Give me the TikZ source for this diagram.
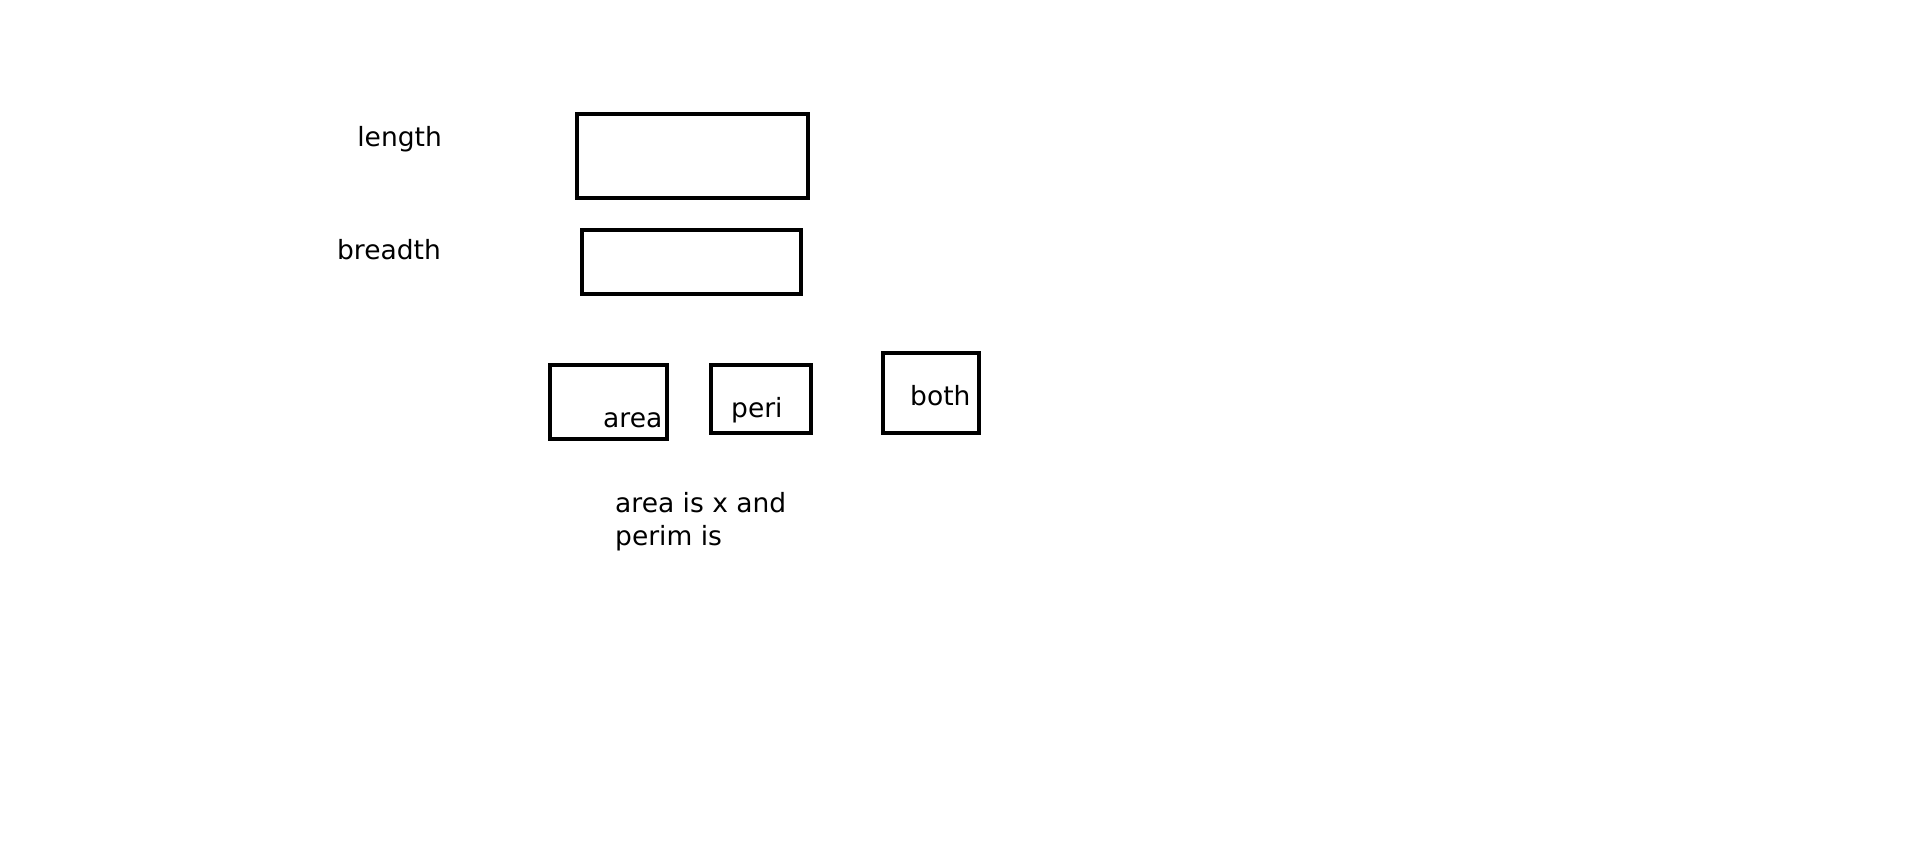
\documentclass[tikz,border=0pt]{standalone}
\usepackage{fontspec}
\setmainfont{DejaVu Sans}

\tikzset{
  inputbox/.style={draw, line width=4.6pt, inner sep=0pt},
  label/.style={inner sep=0pt, font=\fontsize{26.5}{33}\selectfont}
}

\begin{document}
\begin{tikzpicture}[x=1pt,y=-1pt]
\useasboundingbox (0,0) rectangle (1914,847);
% input fields
\node[inputbox, minimum width=231pt, minimum height=84pt] (lenbox) at (692.5,156) {};
\node[inputbox, minimum width=219pt, minimum height=64pt] (brebox) at (691.5,262) {};
\node[label, anchor=base east] (lenlabel) at (442,146) {length};
\node[label, anchor=base east] (brelabel) at (441,259) {breadth};
% buttons
\node[inputbox, minimum width=117pt, minimum height=74pt] (areabtn) at (608.5,402) {};
\node[inputbox, minimum width=100pt, minimum height=68pt] (peribtn) at (761,399) {};
\node[inputbox, minimum width=96pt, minimum height=80pt] (bothbtn) at (931,393) {};
\node[label, anchor=base west] (arealabel) at (603,427) {area};
\node[label, anchor=base west] (perilabel) at (731,417) {peri};
\node[label, anchor=base west] (bothlabel) at (910,405) {both};
% result
\node[label, anchor=north west, align=left] (result) at (615,492) {area is x and\\perim is};
\end{tikzpicture}
\end{document}
